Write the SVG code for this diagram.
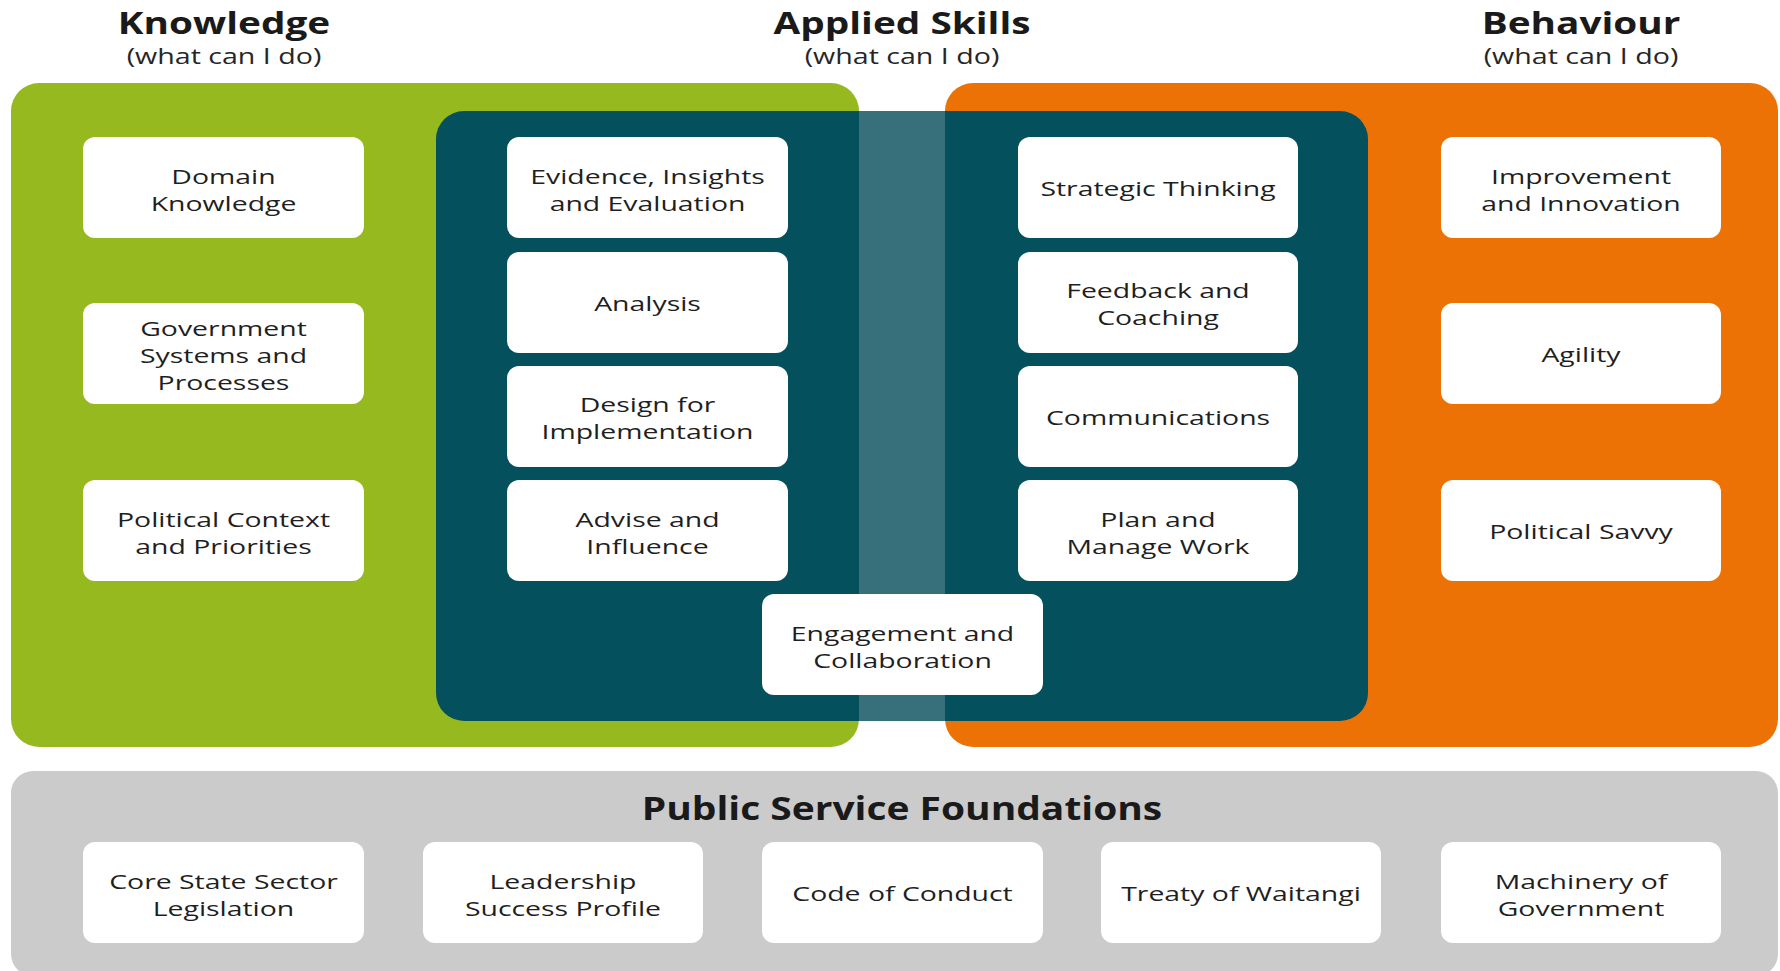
<svg xmlns="http://www.w3.org/2000/svg" width="1780" height="971" viewBox="0 0 1780 971">
<style>
.box{fill:#ffffff}
.t{font-family:"Open Sans","Liberation Sans",sans-serif;font-size:20px;fill:#1f1f1f;text-anchor:middle}
.h{font-family:"Open Sans","Liberation Sans",sans-serif;font-size:31px;font-weight:bold;fill:#1a1a1a;text-anchor:middle}
.f{font-family:"Open Sans","Liberation Sans",sans-serif;font-size:33px;font-weight:bold;fill:#1a1a1a;text-anchor:middle}
.s{font-family:"Open Sans","Liberation Sans",sans-serif;font-size:22px;fill:#262626;text-anchor:middle}
</style>
<rect width="1780" height="971" fill="#ffffff"/>
<g id="headers">
<text class="h" transform="translate(224,34) scale(1.25,1)">Knowledge</text>
<text class="s" transform="translate(224,64) scale(1.3,1)">(what can I do)</text>
<text class="h" transform="translate(902,34) scale(1.25,1)">Applied Skills</text>
<text class="s" transform="translate(902,64) scale(1.3,1)">(what can I do)</text>
<text class="h" transform="translate(1581,34) scale(1.25,1)">Behaviour</text>
<text class="s" transform="translate(1581,64) scale(1.3,1)">(what can I do)</text>
</g>
<g id="panels">
<rect id="knowledge-panel" x="11" y="83" width="848" height="664" rx="28" fill="#96b920"/>
<rect id="behaviour-panel" x="945" y="83" width="833" height="664" rx="28" fill="#ec7205"/>
<rect id="skills-panel" x="436" y="111" width="932" height="610" rx="28" fill="#05505d"/>
<rect id="skills-band" x="859" y="111" width="86" height="610" fill="#37707a"/>
<rect id="foundations-panel" x="11" y="771" width="1767" height="205" rx="22" fill="#cbcbcb"/>
<text class="f" transform="translate(902,820) scale(1.18,1)">Public Service Foundations</text>
</g>
<g id="connectors"></g>
<g id="n-domain"><rect class="box" x="83" y="137" width="281" height="101" rx="12"/><text class="t" transform="translate(223.5,184) scale(1.42,1)"><tspan x="0">Domain</tspan><tspan x="0" dy="27">Knowledge</tspan></text></g>
<g id="n-govsys"><rect class="box" x="83" y="303" width="281" height="101" rx="12"/><text class="t" transform="translate(223.5,336) scale(1.42,1)"><tspan x="0">Government</tspan><tspan x="0" dy="27">Systems and</tspan><tspan x="0" dy="27">Processes</tspan></text></g>
<g id="n-political-context"><rect class="box" x="83" y="480" width="281" height="101" rx="12"/><text class="t" transform="translate(223.5,527) scale(1.42,1)"><tspan x="0">Political Context</tspan><tspan x="0" dy="27">and Priorities</tspan></text></g>
<g id="n-evidence"><rect class="box" x="507" y="137" width="281" height="101" rx="12"/><text class="t" transform="translate(647.5,184) scale(1.42,1)"><tspan x="0">Evidence, Insights</tspan><tspan x="0" dy="27">and Evaluation</tspan></text></g>
<g id="n-analysis"><rect class="box" x="507" y="252" width="281" height="101" rx="12"/><text class="t" transform="translate(647.5,311) scale(1.42,1)">Analysis</text></g>
<g id="n-design"><rect class="box" x="507" y="366" width="281" height="101" rx="12"/><text class="t" transform="translate(647.5,412) scale(1.42,1)"><tspan x="0">Design for</tspan><tspan x="0" dy="27">Implementation</tspan></text></g>
<g id="n-advise"><rect class="box" x="507" y="480" width="281" height="101" rx="12"/><text class="t" transform="translate(647.5,527) scale(1.42,1)"><tspan x="0">Advise and</tspan><tspan x="0" dy="27">Influence</tspan></text></g>
<g id="n-engagement"><rect class="box" x="762" y="594" width="281" height="101" rx="12"/><text class="t" transform="translate(902.5,641) scale(1.42,1)"><tspan x="0">Engagement and</tspan><tspan x="0" dy="27">Collaboration</tspan></text></g>
<g id="n-strategic"><rect class="box" x="1018" y="137" width="280" height="101" rx="12"/><text class="t" transform="translate(1158,196) scale(1.42,1)">Strategic Thinking</text></g>
<g id="n-feedback"><rect class="box" x="1018" y="252" width="280" height="101" rx="12"/><text class="t" transform="translate(1158,298) scale(1.42,1)"><tspan x="0">Feedback and</tspan><tspan x="0" dy="27">Coaching</tspan></text></g>
<g id="n-communications"><rect class="box" x="1018" y="366" width="280" height="101" rx="12"/><text class="t" transform="translate(1158,425) scale(1.42,1)">Communications</text></g>
<g id="n-plan"><rect class="box" x="1018" y="480" width="280" height="101" rx="12"/><text class="t" transform="translate(1158,527) scale(1.42,1)"><tspan x="0">Plan and</tspan><tspan x="0" dy="27">Manage Work</tspan></text></g>
<g id="n-improvement"><rect class="box" x="1441" y="137" width="280" height="101" rx="12"/><text class="t" transform="translate(1581,184) scale(1.42,1)"><tspan x="0">Improvement</tspan><tspan x="0" dy="27">and Innovation</tspan></text></g>
<g id="n-agility"><rect class="box" x="1441" y="303" width="280" height="101" rx="12"/><text class="t" transform="translate(1581,362) scale(1.42,1)">Agility</text></g>
<g id="n-savvy"><rect class="box" x="1441" y="480" width="280" height="101" rx="12"/><text class="t" transform="translate(1581,539) scale(1.42,1)">Political Savvy</text></g>
<g id="n-core-state"><rect class="box" x="83" y="842" width="281" height="101" rx="12"/><text class="t" transform="translate(223.5,889) scale(1.42,1)"><tspan x="0">Core State Sector</tspan><tspan x="0" dy="27">Legislation</tspan></text></g>
<g id="n-leadership"><rect class="box" x="423" y="842" width="280" height="101" rx="12"/><text class="t" transform="translate(563,889) scale(1.42,1)"><tspan x="0">Leadership</tspan><tspan x="0" dy="27">Success Profile</tspan></text></g>
<g id="n-code"><rect class="box" x="762" y="842" width="281" height="101" rx="12"/><text class="t" transform="translate(902.5,901) scale(1.42,1)">Code of Conduct</text></g>
<g id="n-treaty"><rect class="box" x="1101" y="842" width="280" height="101" rx="12"/><text class="t" transform="translate(1241,901) scale(1.42,1)">Treaty of Waitangi</text></g>
<g id="n-machinery"><rect class="box" x="1441" y="842" width="280" height="101" rx="12"/><text class="t" transform="translate(1581,889) scale(1.42,1)"><tspan x="0">Machinery of</tspan><tspan x="0" dy="27">Government</tspan></text></g>
</svg>
